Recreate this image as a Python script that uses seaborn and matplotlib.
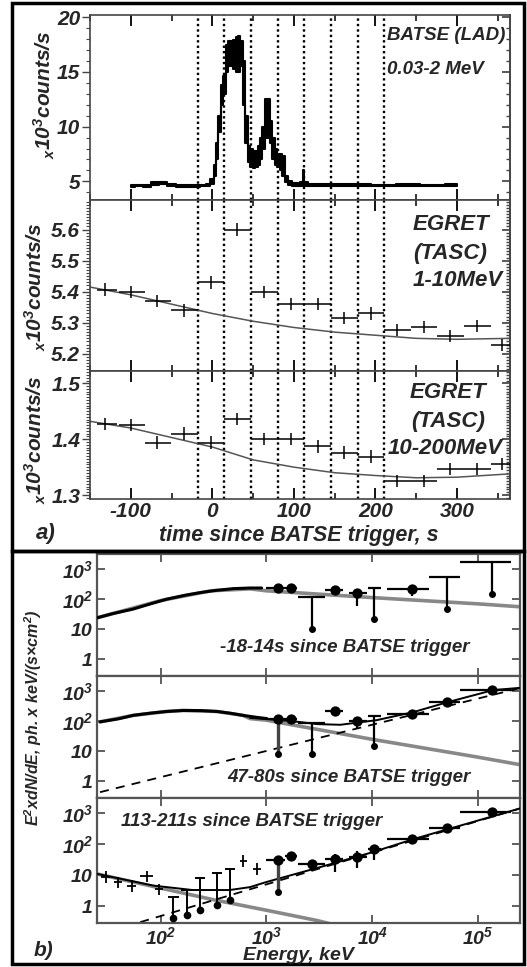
import numpy as np
import matplotlib
matplotlib.use('Agg')
import matplotlib.pyplot as plt
from matplotlib.patches import Rectangle
from matplotlib.ticker import MultipleLocator, FixedLocator, NullLocator, NullFormatter
import seaborn as sns

sns.set_theme(style='ticks')
plt.rcParams['font.family'] = ['Liberation Sans', 'DejaVu Sans']
plt.rcParams['font.weight'] = 'bold'
plt.rcParams['font.style'] = 'italic'
plt.rcParams['mathtext.fontset'] = 'custom'
plt.rcParams['mathtext.rm'] = 'Liberation Sans:italic:bold'
plt.rcParams['mathtext.it'] = 'Liberation Sans:italic:bold'
plt.rcParams['mathtext.bf'] = 'Liberation Sans:italic:bold'
plt.rcParams['axes.unicode_minus'] = False

# ---------------- panel a data ----------------
# BATSE LAD light curve (x10^3 counts/s), lower / upper envelope of the noisy trace
lc_t = [-100, -90, -80, -70, -60, -50, -40, -30, -20, -10, -5, 0, 3, 6, 9, 12, 15, 18, 21, 24,
        27, 30, 33, 36, 39, 42, 45, 48, 51, 54, 57, 60, 63, 66, 69, 72, 75, 78, 81, 84,
        87, 90, 95, 100, 105, 110, 112, 114, 120, 150, 180, 210, 240, 270, 300]
lc_lo = [4.5, 4.55, 4.5, 4.7, 4.75, 4.6, 4.5, 4.5, 4.5, 4.55, 4.6, 4.8, 5.5, 7.0, 9.5, 12.0, 13.0, 15.0, 15.5, 15.5,
         15.3, 15.0, 15.0, 15.5, 12.0, 8.5, 6.8, 6.3, 6.2, 6.3, 6.5, 7.0, 8.0, 9.0, 9.0, 8.5, 7.0, 6.5, 6.3, 6.0,
         5.5, 4.9, 4.7, 4.6, 4.6, 4.6, 4.6, 4.6, 4.55, 4.55, 4.55, 4.55, 4.55, 4.55, 4.55]
lc_hi = [4.7, 4.7, 4.7, 4.9, 4.9, 4.75, 4.7, 4.65, 4.65, 4.7, 4.8, 5.2, 6.5, 8.5, 11.0, 13.8, 14.6, 17.5, 17.8, 17.8,
         17.9, 18.2, 18.3, 17.8, 16.0, 11.0, 8.2, 8.0, 7.8, 7.8, 8.2, 9.0, 10.0, 12.5, 12.5, 10.5, 9.0, 8.0, 7.5, 7.5,
         7.3, 5.5, 5.0, 4.85, 4.85, 4.9, 6.0, 4.9, 4.75, 4.75, 4.75, 4.7, 4.75, 4.7, 4.75]

# time intervals used for spectra
interval_t = [-18, 14, 47, 80, 113, 146, 179, 211]

# EGRET TASC rates
eg_t = [-132, -100, -68, -35, -2, 30, 63, 96, 129, 162, 195, 227, 260, 292, 325, 355]
eg_t0 = [-142, -114, -82, -51, -18, 14, 47, 80, 113, 146, 179, 211, 243, 276, 309, 342]
eg_t1 = [-117, -83, -51, -18, 14, 47, 80, 113, 146, 179, 211, 243, 276, 309, 342, 370]
tasc1 = [5.407, 5.40, 5.37, 5.34, 5.43, 5.60, 5.40, 5.36, 5.36, 5.315, 5.33, 5.276, 5.287, 5.258, 5.29, 5.228]
tasc1_err = [0.02] * 16
tasc2 = [1.427, 1.426, 1.394, 1.41, 1.394, 1.436, 1.40, 1.40, 1.387, 1.376, 1.369, 1.325, 1.325, 1.347, 1.347, 1.355]
tasc2_err = [0.011] * 16

# background fits
fit_t = [-150, -100, -50, 0, 50, 100, 150, 200, 250, 300, 365]
fit1 = [5.415, 5.39, 5.36, 5.33, 5.305, 5.285, 5.27, 5.26, 5.25, 5.247, 5.25]
fit2 = [1.432, 1.42, 1.403, 1.386, 1.363, 1.35, 1.34, 1.335, 1.331, 1.332, 1.338]

# ---------------- panel b data ----------------
# BATSE spectra (E^2 dN/dE)
s1_E = [25, 35, 55, 80, 114, 170, 235, 330, 487, 700, 900]
s1_v = [24, 33, 47, 70, 100, 135, 165, 195, 224, 235, 235]
band1_E = [25, 100, 300, 700, 1000, 1e4, 1e5, 2.5e5]
band1_v = [24, 90, 190, 220, 190, 113, 70, 56]

s2_E = [26.7, 40, 55, 80, 114, 163, 240, 340, 450, 600, 800, 1010]
s2_v = [95, 120, 156, 185, 210, 227, 225, 210, 185, 156, 135, 122]
band2_E = [26.7, 55, 114, 163, 340, 600, 700, 1000, 1e4, 1e5, 2.5e5]
band2_v = [95, 156, 210, 227, 210, 156, 122, 108, 25, 6.4, 3.6]
tot2_E = [700, 1000, 2000, 3000, 5000, 1.1e4, 2.45e4, 5.07e4, 1.4e5, 2.5e5]
tot2_v = [128, 118, 95, 80, 76, 108, 200, 420, 1080, 1280]
pl2_E = [26.7, 2.5e5]
pl2_v = [0.44, 1250]

s3_E = [30.4, 39.7, 53.2, 73.8, 97, 604, 809]
s3_E0 = [27.5, 36, 48.5, 64, 89, 560, 740]
s3_E1 = [33.5, 43.5, 58, 85, 106, 650, 880]
s3_v = [8.8, 5.8, 4.5, 9.2, 3.5, 29, 16]
s3_ul_E = [132, 176, 235, 339, 453]
s3_ul_top = [2.0, 3.35, 8.1, 11.9, 16.2]
s3_ul_bot = [0.42, 0.5, 0.72, 1.07, 1.56]
band3_E = [25, 85, 315, 1000, 3000, 5000]
band3_v = [11, 4.3, 1.6, 0.73, 0.34, 0.22]
tot3_E = [25, 85, 200, 450, 700, 1000, 3000, 1e4, 2.5e4, 2.5e5]
tot3_v = [11, 4.6, 3.3, 3.3, 4.1, 6, 17, 55, 150, 1450]
pl3_E = [64, 2.5e5]
pl3_v = [0.3, 1450]

# EGRET / TASC spectral points (kind: p point, u upper limit, d point with long tail)
eg_E = [1300, 1700, 2700, 4450, 7240, 10470, 24000, 50700, 137000]
eg_E0 = [1000, 1500, 2000, 3600, 6100, 9200, 13700, 34700, 67300]
eg_E1 = [1500, 1950, 3600, 5300, 8900, 12000, 34700, 67300, 207000]
top_v = [230, 230, 119, 203, 158, 240, 214, 557, 1700]
top_lo = [200, 200, 10.2, 180, 60, 21.9, 130, 46.6, 146]
top_hi = [260, 260, 119, 230, 190, 240, 300, 557, 1700]
top_kind = ['p', 'p', 'u', 'p', 'p', 'u', 'p', 'u', 'u']
mid_v = [116, 116, 88, 215, 102, 148, 168, 442, 1080]
mid_lo = [7.9, 80, 7.9, 190, 60, 14.8, 120, 330, 800]
mid_hi = [135, 150, 88, 240, 130, 148, 220, 580, 1350]
mid_kind = ['d', 'p', 'u', 'p', 'p', 'u', 'p', 'p', 'p']
bot_v = [30.5, 42, 22.5, 32.5, 40, 70, 150, 337, 1080]
bot_lo = [2.9, 35, 13.5, 12.3, 17, 30, 110, 250, 850]
bot_hi = [38, 50, 32, 48, 60, 95, 190, 420, 1350]
bot_kind = ['d', 'p', 'p', 'p', 'p', 'p', 'p', 'p', 'p']

W, H = 527, 967
fig = plt.figure(figsize=(W / 100, H / 100), dpi=100)


def place(x0, y0, x1, y1):
    return fig.add_axes([x0 / W, 1 - y1 / H, (x1 - x0) / W, (y1 - y0) / H])


def ftext(x, y, s, **kw):
    fig.text(x / W, 1 - y / H, s, **kw)


SPINE = '#444444'


def style_a(ax, ylim, major, minor, show_x):
    ax.set_xlim(-150, 365)
    ax.set_ylim(ylim)
    ax.xaxis.set_major_locator(MultipleLocator(100))
    ax.xaxis.set_minor_locator(MultipleLocator(50))
    ax.yaxis.set_major_locator(MultipleLocator(major))
    ax.yaxis.set_minor_locator(MultipleLocator(minor))
    ax.tick_params(axis='x', which='both', direction='in', top=True, bottom=True,
                   labelbottom=show_x, labelsize=15, pad=2, color='black')
    ax.tick_params(axis='x', which='major', length=8, width=1.3)
    ax.tick_params(axis='x', which='minor', length=4, width=1.1)
    ax.tick_params(axis='y', which='both', direction='out', left=True, right=False,
                   labelsize=15, pad=1, color=SPINE)
    ax.tick_params(axis='y', which='major', length=6, width=1)
    ax.tick_params(axis='y', which='minor', length=3, width=0.8)
    sec = ax.secondary_yaxis('right')
    sec.yaxis.set_major_locator(MultipleLocator(major))
    sec.yaxis.set_minor_locator(MultipleLocator(minor))
    sec.yaxis.set_major_formatter(NullFormatter())
    sec.tick_params(axis='y', which='both', direction='in', color=SPINE)
    sec.tick_params(axis='y', which='major', length=6)
    sec.tick_params(axis='y', which='minor', length=3)
    sec.spines['right'].set_color(SPINE)
    for s in ax.spines.values():
        s.set_color(SPINE)
        s.set_linewidth(1.2)
    for t in interval_t:
        ax.axvline(t, color='black', ls=(0, (1, 1.3)), lw=1.7, zorder=1)


# ---------------- panel a ----------------
ax1 = place(90, 15, 510, 200)
ax1.fill_between(lc_t, lc_lo, lc_hi, step='mid', color='black', edgecolor='black', lw=1.5, zorder=3)
style_a(ax1, (3.3, 20.2), 5, 1, False)

ax2 = place(90, 200, 510, 371)
ax2.errorbar(eg_t, tasc1, yerr=tasc1_err,
             xerr=[np.subtract(eg_t, eg_t0), np.subtract(eg_t1, eg_t)],
             fmt='none', ecolor='black', elinewidth=1.1, zorder=3)
sns.lineplot(x=fit_t, y=fit1, ax=ax2, color='#555555', lw=1.1, zorder=2)
style_a(ax2, (5.145, 5.695), 0.1, 0.01, False)

ax3 = place(90, 371, 510, 499)
ax3.errorbar(eg_t, tasc2, yerr=tasc2_err,
             xerr=[np.subtract(eg_t, eg_t0), np.subtract(eg_t1, eg_t)],
             fmt='none', ecolor='black', elinewidth=1.1, zorder=3)
sns.lineplot(x=fit_t, y=fit2, ax=ax3, color='#555555', lw=1.1, zorder=2)
style_a(ax3, (1.293, 1.522), 0.1, 0.005, True)

ylab = r'$_x$$10^3$counts/s'
ftext(44, 95, ylab, rotation=90, ha='center', va='center', fontsize=15)
ftext(35, 287, ylab, rotation=90, ha='center', va='center', fontsize=15)
ftext(35, 440, ylab, rotation=90, ha='center', va='center', fontsize=15)

ftext(387, 35, 'BATSE (LAD)', ha='left', va='center', fontsize=13.5)
ftext(387, 70, '0.03-2 MeV', ha='left', va='center', fontsize=13.5)
ftext(413, 225, 'EGRET', ha='left', va='center', fontsize=16)
ftext(413, 253, '(TASC)', ha='left', va='center', fontsize=16)
ftext(413, 281, '1-10MeV', ha='left', va='center', fontsize=16)
ftext(448, 393, 'EGRET', ha='center', va='center', fontsize=16)
ftext(448, 421, '(TASC)', ha='center', va='center', fontsize=16)
ftext(445, 448, '10-200MeV', ha='center', va='center', fontsize=16)
ftext(299, 535, 'time since BATSE trigger, s', ha='center', va='center', fontsize=15.5)
ftext(46, 534, 'a)', ha='center', va='center', fontsize=16)


# ---------------- panel b ----------------
def style_b(ax, show_x):
    ax.set_xscale('log')
    ax.set_yscale('log')
    ax.set_xlim(25, 2.5e5)
    ax.set_ylim(10 ** -0.55, 10 ** 3.5)
    ax.xaxis.set_major_locator(FixedLocator([1e2, 1e3, 1e4, 1e5]))
    ax.xaxis.set_minor_locator(NullLocator())
    ax.set_xticklabels(['$10^2$', '$10^3$', '$10^4$', '$10^5$'])
    ax.yaxis.set_major_locator(FixedLocator([1, 10, 100, 1000]))
    ax.yaxis.set_minor_locator(NullLocator())
    ax.set_yticklabels(['1', '10', '$10^2$', '$10^3$'])
    ax.tick_params(axis='both', which='major', direction='in', top=True, right=True,
                   length=6, width=1.2, labelsize=14, color=SPINE)
    ax.tick_params(axis='x', labelbottom=show_x, pad=2)
    ax.tick_params(axis='y', pad=3)
    for s in ax.spines.values():
        s.set_color('#555555')
        s.set_linewidth(1.6)


def draw_points(ax, v, lo, hi, kind):
    for i, k in enumerate(kind):
        if k == 'u':
            ax.hlines(v[i], eg_E0[i], eg_E1[i], color='black', lw=1.6, zorder=4)
            ax.vlines(eg_E[i], lo[i], v[i], color='black', lw=1.6, zorder=4)
            ax.plot(eg_E[i], lo[i], 'o', color='black', ms=4, zorder=5)
        else:
            ax.hlines(v[i], eg_E0[i], eg_E1[i], color='black', lw=1.6, zorder=4)
            ax.vlines(eg_E[i], lo[i], hi[i], color='black' if k == 'p' else '#444444',
                      lw=1.6 if k == 'p' else 2.4, zorder=4)
            if k == 'd':
                ax.plot(eg_E[i], lo[i], 'o', color='black', ms=4, zorder=5)
    pts = [i for i, k in enumerate(kind) if k != 'u']
    sns.scatterplot(x=[eg_E[i] for i in pts], y=[v[i] for i in pts], ax=ax,
                    color='black', s=55, linewidth=0, zorder=6)


bx1 = place(97, 554, 520, 676)
sns.lineplot(x=band1_E, y=band1_v, ax=bx1, color='#888888', lw=2.6, zorder=2)
sns.lineplot(x=s1_E, y=s1_v, ax=bx1, color='black', lw=2.2, zorder=3)
draw_points(bx1, top_v, top_lo, top_hi, top_kind)
style_b(bx1, False)

bx2 = place(97, 676, 520, 798)
sns.lineplot(x=band2_E, y=band2_v, ax=bx2, color='#888888', lw=2.6, zorder=2)
sns.lineplot(x=pl2_E, y=pl2_v, ax=bx2, color='black', lw=1.3, ls=(0, (5, 4)), zorder=2)
sns.lineplot(x=tot2_E, y=tot2_v, ax=bx2, color='black', lw=1.4, zorder=3)
sns.lineplot(x=s2_E, y=s2_v, ax=bx2, color='black', lw=2.2, zorder=3)
draw_points(bx2, mid_v, mid_lo, mid_hi, mid_kind)
style_b(bx2, False)

bx3 = place(97, 798, 520, 923)
sns.lineplot(x=band3_E, y=band3_v, ax=bx3, color='#888888', lw=2.6, zorder=2)
sns.lineplot(x=pl3_E, y=pl3_v, ax=bx3, color='black', lw=1.3, ls=(0, (5, 4)), zorder=2)
sns.lineplot(x=tot3_E, y=tot3_v, ax=bx3, color='black', lw=1.4, zorder=3)
bx3.errorbar(s3_E, s3_v, yerr=[np.array(s3_v) * 0.35, np.array(s3_v) * 0.5],
             xerr=[np.subtract(s3_E, s3_E0), np.subtract(s3_E1, s3_E)],
             fmt='none', ecolor='black', elinewidth=1.3, zorder=4)
for e, t, b in zip(s3_ul_E, s3_ul_top, s3_ul_bot):
    bx3.hlines(t, e / 1.12, e * 1.12, color='black', lw=1.4, zorder=4)
    bx3.vlines(e, b, t, color='black', lw=1.4, zorder=4)
    bx3.plot(e, b, 'o', color='black', ms=4.5, zorder=5)
draw_points(bx3, bot_v, bot_lo, bot_hi, bot_kind)
style_b(bx3, True)

ftext(345, 647, '-18-14s since BATSE trigger', ha='center', va='center', fontsize=13.5)
ftext(349, 777, '47-80s since BATSE trigger', ha='center', va='center', fontsize=13.5)
ftext(252, 822, '113-211s since BATSE trigger', ha='center', va='center', fontsize=13.5)
ftext(33, 718, r'E$^2$xdN/dE, ph. x keV/(s$\times$cm$^2$)', rotation=90,
      ha='center', va='center', fontsize=11.5)
ftext(298, 955, 'Energy, keV', ha='center', va='center', fontsize=14)
ftext(44, 950, 'b)', ha='center', va='center', fontsize=15)

# outer boxes
for y0, y1 in [(3, 551), (551, 964)]:
    fig.patches.append(Rectangle((12 / W, 1 - y1 / H), 512 / W, (y1 - y0) / H,
                                 transform=fig.transFigure, fill=False,
                                 edgecolor='black', lw=2.5))

fig.savefig('out.png', dpi=100)
